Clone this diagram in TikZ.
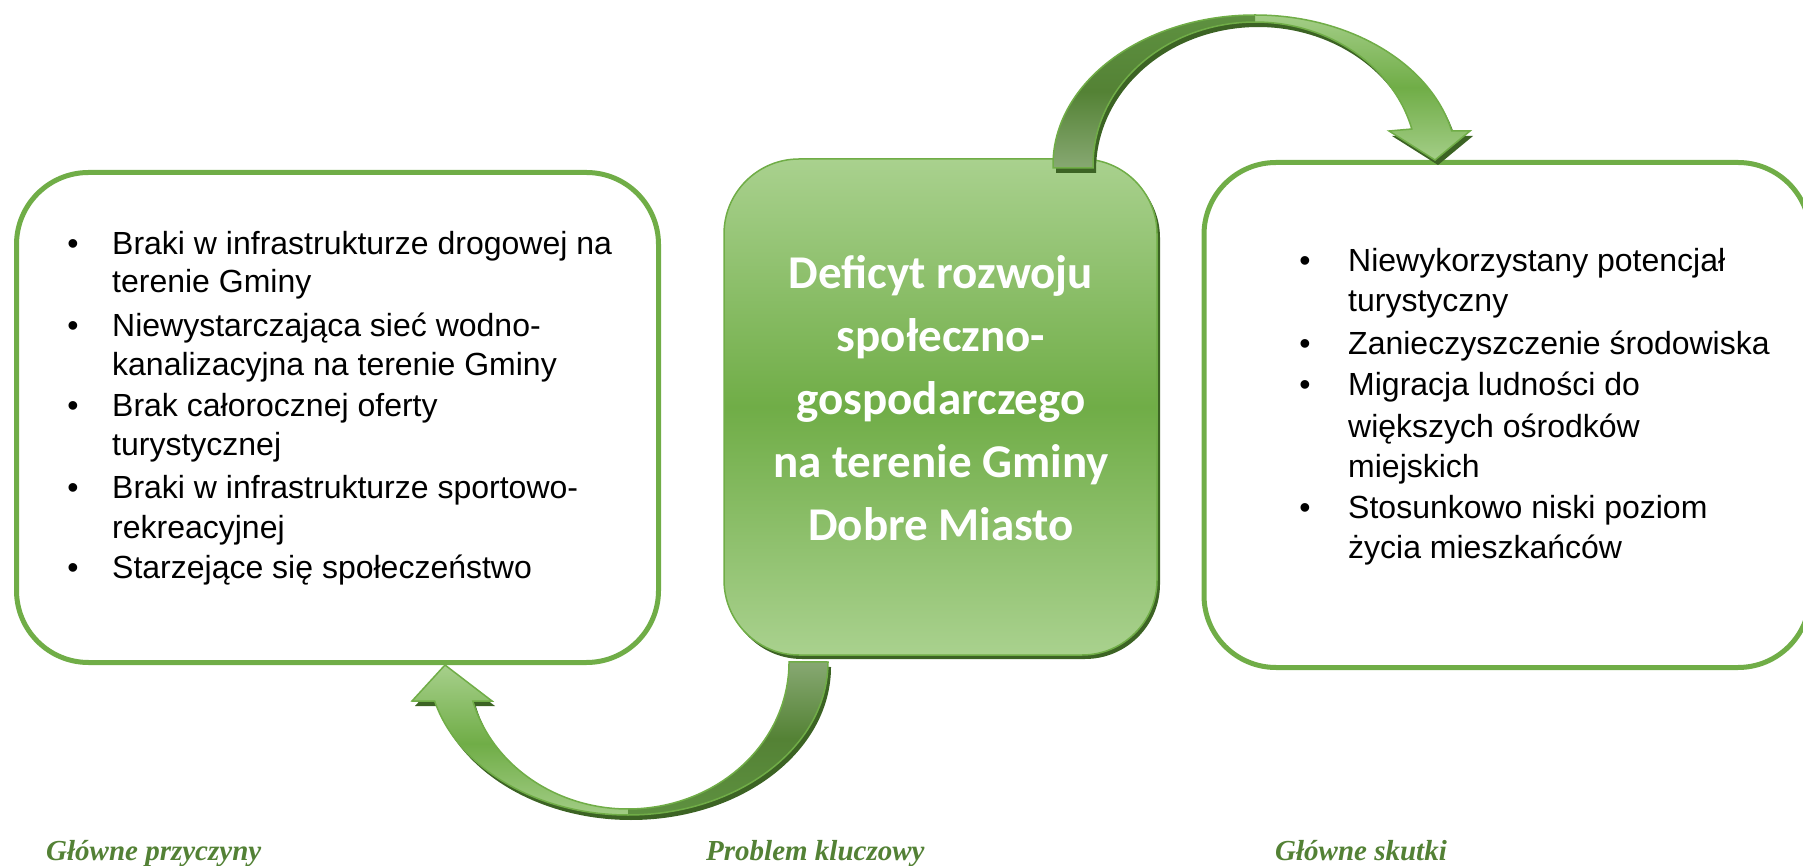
\documentclass[tikz,border=0pt]{standalone}
\usepackage{fontspec}
\setmainfont{Liberation Sans}
\newfontfamily\calfont{Carlito}
\newfontfamily\serfont{Liberation Serif}
\usetikzlibrary{shadows}
\definecolor{gbord}{HTML}{70AD47}
\definecolor{glight}{HTML}{A9D18E}
\definecolor{gdark}{HTML}{548235}
\definecolor{gtop}{HTML}{5E9140}
\definecolor{gshadow}{HTML}{3C6324}
\definecolor{ggrey}{HTML}{87A872}
\definecolor{glabel}{HTML}{538135}
\tikzset{
 toparrow/.style={insert path={(1053,697) -- (1053,700) arc[start angle=180, end angle=13.1, x radius=202, y radius=150] -- (1470,734) -- (1435,705) -- (1389,734) -- (1411.8,736) arc[start angle=14.6, end angle=180, x radius=162, y radius=143] -- (1093,697) -- cycle}},
 topback/.style={insert path={(1053,697) -- (1053,700) arc[start angle=180, end angle=90, x radius=202, y radius=150] -- (1255,843) arc[start angle=90, end angle=180, x radius=162, y radius=143] -- (1093,697) -- cycle}},
 botarrow/.style={insert path={(828,203) arc[start angle=0, end angle=-165.2, x radius=200, y radius=153] -- (412,164) -- (445,200) -- (492,164) -- (472.8,164) arc[start angle=-164.6, end angle=0, x radius=161, y radius=147] -- cycle}},
 botback/.style={insert path={(828,203) arc[start angle=0, end angle=-90, x radius=200, y radius=153] -- (628,56) arc[start angle=-90, end angle=0, x radius=161, y radius=147] -- cycle}},
}
\begin{document}
\begin{tikzpicture}[x=1pt,y=1pt,
 line/.style={font=\fontsize{32}{38}\selectfont, anchor=base west, inner sep=0pt},
 bul/.style={font=\fontsize{32}{38}\selectfont, anchor=base, inner sep=0pt},
 ctext/.style={font=\calfont\bfseries\fontsize{47}{56}\selectfont, text=white, anchor=base, inner sep=0pt},
 lab/.style={font=\serfont\bfseries\itshape\fontsize{29}{34}\selectfont, text=glabel, anchor=base west, inner sep=0pt},
 outbox/.style={draw=gbord, line width=5pt, rounded corners=72pt, fill=white, inner sep=0pt},
 midbox/.style={draw=gbord, line width=1.5pt, rounded corners=75pt, inner sep=0pt,
   top color=glight, bottom color=glight, middle color=gbord,
   general shadow={shadow xshift=3pt, shadow yshift=-4pt, fill=gshadow}},
 band/.style={top color=glight, bottom color=glight, middle color=gbord},
 bandedge/.style={draw=gbord, line width=1.5pt},
]
\useasboundingbox (0,0) rectangle (1803,865);
\clip (0,0) rectangle (1803,865);

% outer boxes
\node[outbox, minimum width=642pt, minimum height=490pt] (causes) at (337.5,447.5) {};
\node[outbox, minimum width=606pt, minimum height=505pt] (effects) at (1507,450) {};

% bottom arrow (problem -> causes)
\path[fill=gshadow, shift={(3,-5)}, botarrow];
\path[band, botarrow];
\path[top color=ggrey, bottom color=gtop, middle color=gdark, botback];
\path[bandedge, botarrow];

% central box
\node[midbox, minimum width=433pt, minimum height=496pt] (problem) at (940.5,458) {};

% top arrow (problem -> effects)
\path[fill=gshadow, shift={(3,-5)}, toparrow];
\path[band, toparrow];
\path[top color=gtop, bottom color=ggrey, middle color=gdark, topback];
\path[bandedge, toparrow];

% central text
\node[ctext] (p1) at (941,576) {Deficyt rozwoju};
\node[ctext] (p2) at (941,513) {społeczno-};
\node[ctext] (p3) at (941,450) {gospodarczego};
\node[ctext] (p4) at (941,387) {na terenie Gminy};
\node[ctext] (p5) at (941,324) {Dobre Miasto};

% causes
\node[bul] (cb1) at (73,610) {•};
\node[line] (c1) at (112,610) {Braki w infrastrukturze drogowej na};
\node[line] (c2) at (112,572) {terenie Gminy};
\node[bul] (cb2) at (73,528) {•};
\node[line] (c3) at (112,528) {Niewystarczająca sieć wodno-};
\node[line] (c4) at (112,489) {kanalizacyjna na terenie Gminy};
\node[bul] (cb3) at (73,448) {•};
\node[line] (c5) at (112,448) {Brak całorocznej oferty};
\node[line] (c6) at (112,409) {turystycznej};
\node[bul] (cb4) at (73,366) {•};
\node[line] (c7) at (112,366) {Braki w infrastrukturze sportowo-};
\node[line] (c8) at (112,326) {rekreacyjnej};
\node[bul] (cb5) at (73,286) {•};
\node[line] (c9) at (112,286) {Starzejące się społeczeństwo};

% effects
\node[bul] (eb1) at (1305,593) {•};
\node[line] (e1) at (1348,593) {Niewykorzystany potencjał};
\node[line] (e2) at (1348,553) {turystyczny};
\node[bul] (eb2) at (1305,510) {•};
\node[line] (e3) at (1348,510) {Zanieczyszczenie środowiska};
\node[bul] (eb3) at (1305,469) {•};
\node[line] (e4) at (1348,469) {Migracja ludności do};
\node[line] (e5) at (1348,427) {większych ośrodków};
\node[line] (e6) at (1348,387) {miejskich};
\node[bul] (eb4) at (1305,346) {•};
\node[line] (e7) at (1348,346) {Stosunkowo niski poziom};
\node[line] (e8) at (1348,306) {życia mieszkańców};

% labels
\node[lab] (l1) at (46,5) {Główne przyczyny};
\node[lab] (l2) at (706,5) {Problem kluczowy};
\node[lab] (l3) at (1275,5) {Główne skutki};
\end{tikzpicture}
\end{document}
